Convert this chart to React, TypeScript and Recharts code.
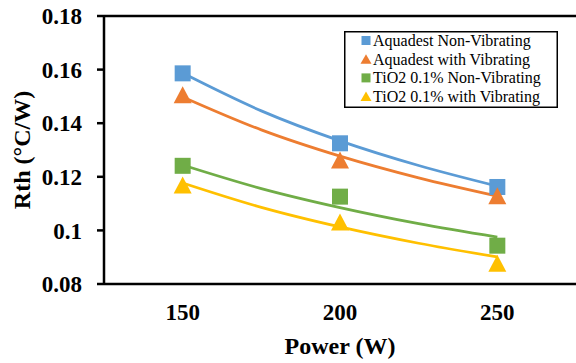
import React from 'react';
import { LineChart, Line, XAxis, YAxis, ReferenceLine, Legend } from 'recharts';

// Measured data points (Power in W, Rth in °C/W)
const powers = [150, 200, 250];
const aquaNonVib = [0.1586, 0.1325, 0.1162];
const aquaVib = [0.1506, 0.1263, 0.1129];
const tioNonVib = [0.1241, 0.1126, 0.0943];
const tioVib = [0.1169, 0.1031, 0.0877];

// Trendline values
const trendPowers = [150, 175, 200, 225, 250];
const aquaNonVibTrend = [0.1587, 0.1446, 0.1334, 0.1242, 0.1165];
const aquaVibTrend = [0.1498, 0.1375, 0.1277, 0.1196, 0.1128];
const tioNonVibTrend = [0.1244, 0.1156, 0.1085, 0.1025, 0.0975];
const tioVibTrend = [0.1177, 0.1086, 0.1013, 0.0952, 0.0901];

const yTicks = [0.08, 0.1, 0.12, 0.14, 0.16, 0.18];
const xTicks = [150, 200, 250];

const seriesNames = [
  'Aquadest Non-Vibrating',
  'Aquadest with Vibrating',
  'TiO2 0.1% Non-Vibrating',
  'TiO2 0.1% with Vibrating',
];
const seriesColors = ['#5B9BD5', '#ED7D31', '#70AD47', '#FFC000'];
const seriesShapes = ['square', 'triangle', 'square', 'triangle'];
const seriesValues = [aquaNonVib, aquaVib, tioNonVib, tioVib];
const seriesTrends = [aquaNonVibTrend, aquaVibTrend, tioNonVibTrend, tioVibTrend];

const FONT = '"Liberation Serif", "Times New Roman", serif';

const toRows = (xs: number[], ys: number[]) => xs.map((x, i) => ({ x, y: ys[i] }));

const makeDot = (shape: string, color: string) => (props: any) => {
  const { cx, cy, index } = props;
  if (cx == null || cy == null) return <g key={index} />;
  if (shape === 'square') {
    const s = 16;
    return <rect key={index} x={cx - s / 2} y={cy - s / 2} width={s} height={s} fill={color} />;
  }
  const w = 18;
  const h = 17;
  return (
    <path
      key={index}
      d={`M${cx},${cy - h / 2} L${cx + w / 2},${cy + h / 2} L${cx - w / 2},${cy + h / 2} Z`}
      fill={color}
    />
  );
};

const LegendBox = () => {
  const baselines = [15, 33.7, 52.4, 71];
  return (
    <svg width={214} height={77} style={{ display: 'block' }}>
      <rect x={0.75} y={0.75} width={212.5} height={75.5} fill="#fff" stroke="#000" strokeWidth={1.5} />
      {seriesNames.map((name, i) => {
        const by = baselines[i];
        const cx = 22;
        const cy = by - 5.5;
        const color = seriesColors[i];
        return (
          <g key={name}>
            {seriesShapes[i] === 'square' ? (
              <rect x={cx - 4.5} y={cy - 4.5} width={9} height={9} fill={color} />
            ) : (
              <path d={`M${cx},${cy - 5} L${cx + 5.5},${cy + 4.5} L${cx - 5.5},${cy + 4.5} Z`} fill={color} />
            )}
            <text x={29} y={by} fontFamily={FONT} fontSize={16} fill="#000">
              {name}
            </text>
          </g>
        );
      })}
    </svg>
  );
};

export default function App() {
  return (
    <div style={{ position: 'absolute', left: 0, top: 0, width: 576, height: 363, background: '#fff' }}>
      <LineChart width={576} height={363} margin={{ top: 16, right: 0, left: 0, bottom: 0 }}>
        <XAxis
          dataKey="x"
          type="number"
          domain={[125, 275]}
          ticks={xTicks}
          allowDataOverflow
          height={79}
          tickLine={false}
          tickSize={0}
          tickMargin={20}
          axisLine={{ stroke: '#000', strokeWidth: 2.5 }}
          tick={{ fill: '#000', fontSize: 23, fontWeight: 'bold', fontFamily: FONT }}
          label={{
            value: 'Power (W)',
            position: 'insideBottom',
            offset: 9,
            style: { fill: '#000', fontSize: 24, fontWeight: 'bold', fontFamily: FONT },
          }}
        />
        <YAxis
          type="number"
          domain={[0.08, 0.18]}
          ticks={yTicks}
          allowDataOverflow
          width={104}
          tickSize={7}
          tickMargin={15}
          tickLine={{ stroke: '#000', strokeWidth: 2.5 }}
          axisLine={{ stroke: '#000', strokeWidth: 2.5 }}
          tickFormatter={(v: number) => String(+v.toFixed(2))}
          tick={{ fill: '#000', fontSize: 23, fontWeight: 'bold', fontFamily: FONT }}
          label={{
            content: (p: any) => {
              const vb = p.viewBox || { x: 0, y: 16, width: 104, height: 268 };
              const x = vb.x + 30;
              const y = vb.y + vb.height / 2;
              return (
                <text
                  x={x}
                  y={y}
                  transform={`rotate(-90 ${x} ${y})`}
                  textAnchor="middle"
                  fill="#000"
                  fontSize={24}
                  fontWeight="bold"
                  fontFamily={FONT}
                >
                  Rth (°C/W)
                </text>
              );
            },
          }}
        />
        <ReferenceLine y={0.18} stroke="#000" strokeWidth={2.5} />
        {seriesTrends.map((t, i) => (
          <Line
            key={'trend' + i}
            data={toRows(trendPowers, t)}
            dataKey="y"
            type="monotone"
            stroke={seriesColors[i]}
            strokeWidth={2.75}
            dot={false}
            activeDot={false}
            legendType="none"
            isAnimationActive={false}
          />
        ))}
        {seriesValues.map((v, i) => (
          <Line
            key={'pts' + i}
            name={seriesNames[i]}
            data={toRows(powers, v)}
            dataKey="y"
            stroke="none"
            dot={makeDot(seriesShapes[i], seriesColors[i])}
            activeDot={false}
            isAnimationActive={false}
          />
        ))}
        <Legend
          layout="vertical"
          align="center"
          verticalAlign="middle"
          content={() => <LegendBox />}
          wrapperStyle={{ left: 344, top: 31, width: 214, height: 77, margin: 0, padding: 0 }}
        />
      </LineChart>
    </div>
  );
}
